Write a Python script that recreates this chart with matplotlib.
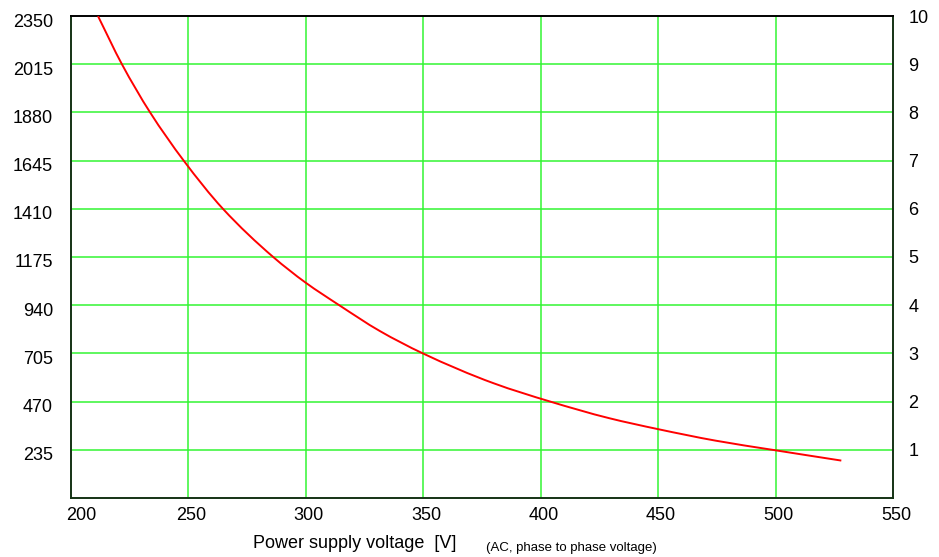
import matplotlib
matplotlib.use("Agg")
import matplotlib.pyplot as plt
import matplotlib.transforms as mtransforms
from matplotlib.path import Path
from matplotlib.patches import PathPatch

plt.rcParams['font.family'] = ['Liberation Sans', 'DejaVu Sans']

# Curve (voltage [V], value on left scale)
voltage = [211.5, 221.7, 233.7, 248.0, 264.7, 286.1, 299.9, 314.2,
           331.5, 349.8, 380.0, 404.0, 429.1, 449.7, 474.6, 498.4, 528.0]
value = [2350, 2115, 1880, 1645, 1410, 1175, 1050, 940,
         814, 705, 559, 470, 389, 336, 279, 235, 182]

x_ticks = [200, 250, 300, 350, 400, 450, 500, 550]
left_tick_vals = [235, 470, 705, 940, 1175, 1410, 1645, 1880, 2115, 2350]
left_tick_labels = ['235', '470', '705', '940', '1175', '1410', '1645', '1880', '2015', '2350']
right_tick_labels = ['1', '2', '3', '4', '5', '6', '7', '8', '9', '10']

fig = plt.figure(figsize=(9.39, 5.57), dpi=100)
ax = fig.add_axes([0.0756, 0.1061, 0.951 - 0.0756, 0.9711 - 0.1061])
ax.set_xlim(200, 550)
ax.set_ylim(0, 2350)

grid_col = '#33f533'
for xv in x_ticks[1:-1]:
    ax.axvline(xv, color=grid_col, lw=1.1, zorder=1)
for yv in left_tick_vals[:-1]:
    ax.axhline(yv, color=grid_col, lw=1.1, zorder=1)

# smooth line through the read points (monotone cubic Hermite drawn as Bezier)
n = len(voltage)
h = [voltage[i + 1] - voltage[i] for i in range(n - 1)]
d = [(value[i + 1] - value[i]) / h[i] for i in range(n - 1)]
m = [0.0] * n
m[0], m[-1] = d[0], d[-1]
for i in range(1, n - 1):
    w1 = 2 * h[i] + h[i - 1]
    w2 = h[i] + 2 * h[i - 1]
    m[i] = (w1 + w2) / (w1 / d[i - 1] + w2 / d[i])
verts = [(voltage[0], value[0])]
codes = [Path.MOVETO]
for i in range(n - 1):
    c1 = (voltage[i] + h[i] / 3, value[i] + m[i] * h[i] / 3)
    c2 = (voltage[i + 1] - h[i] / 3, value[i + 1] - m[i + 1] * h[i] / 3)
    verts += [c1, c2, (voltage[i + 1], value[i + 1])]
    codes += [Path.CURVE4] * 3
ax.add_patch(PathPatch(Path(verts, codes), facecolor='none', edgecolor='#ff0000',
                       lw=1.4, zorder=3, clip_on=True))

for s in ax.spines.values():
    s.set_color('#143214')
    s.set_linewidth(1.4)
ax.spines['top'].set_color('black')

ax.set_xticks(x_ticks)
ax.set_xticklabels([str(v) for v in x_ticks], fontsize=13)
ax.tick_params(axis='x', length=0, pad=6.5)
lbls = ax.get_xticklabels()
lbls[0].set_transform(lbls[0].get_transform() + mtransforms.ScaledTranslation(10/100, 0, fig.dpi_scale_trans))
for l in lbls[1:]:
    l.set_transform(l.get_transform() + mtransforms.ScaledTranslation(3/100, 0, fig.dpi_scale_trans))

ax.set_yticks(left_tick_vals)
ax.set_yticklabels(left_tick_labels, fontsize=13)
ax.tick_params(axis='y', length=0, pad=13)
for l in ax.get_yticklabels():
    l.set_transform(l.get_transform() + mtransforms.ScaledTranslation(0, -4/100, fig.dpi_scale_trans))

ax2 = ax.twinx()
ax2.set_ylim(0, 10)
ax2.set_yticks(range(1, 11))
ax2.set_yticklabels(right_tick_labels, fontsize=13)
ax2.tick_params(axis='y', length=0, pad=11)
for s in ax2.spines.values():
    s.set_visible(False)

fig.text(355 / 939, 1 - 544 / 557, 'Power supply voltage  [V]', fontsize=13,
         ha='center', va='center')
fig.text(486 / 939, 1 - 548 / 557, '(AC, phase to phase voltage)', fontsize=9.5,
         ha='left', va='center')

fig.savefig('out.png', dpi=100)
